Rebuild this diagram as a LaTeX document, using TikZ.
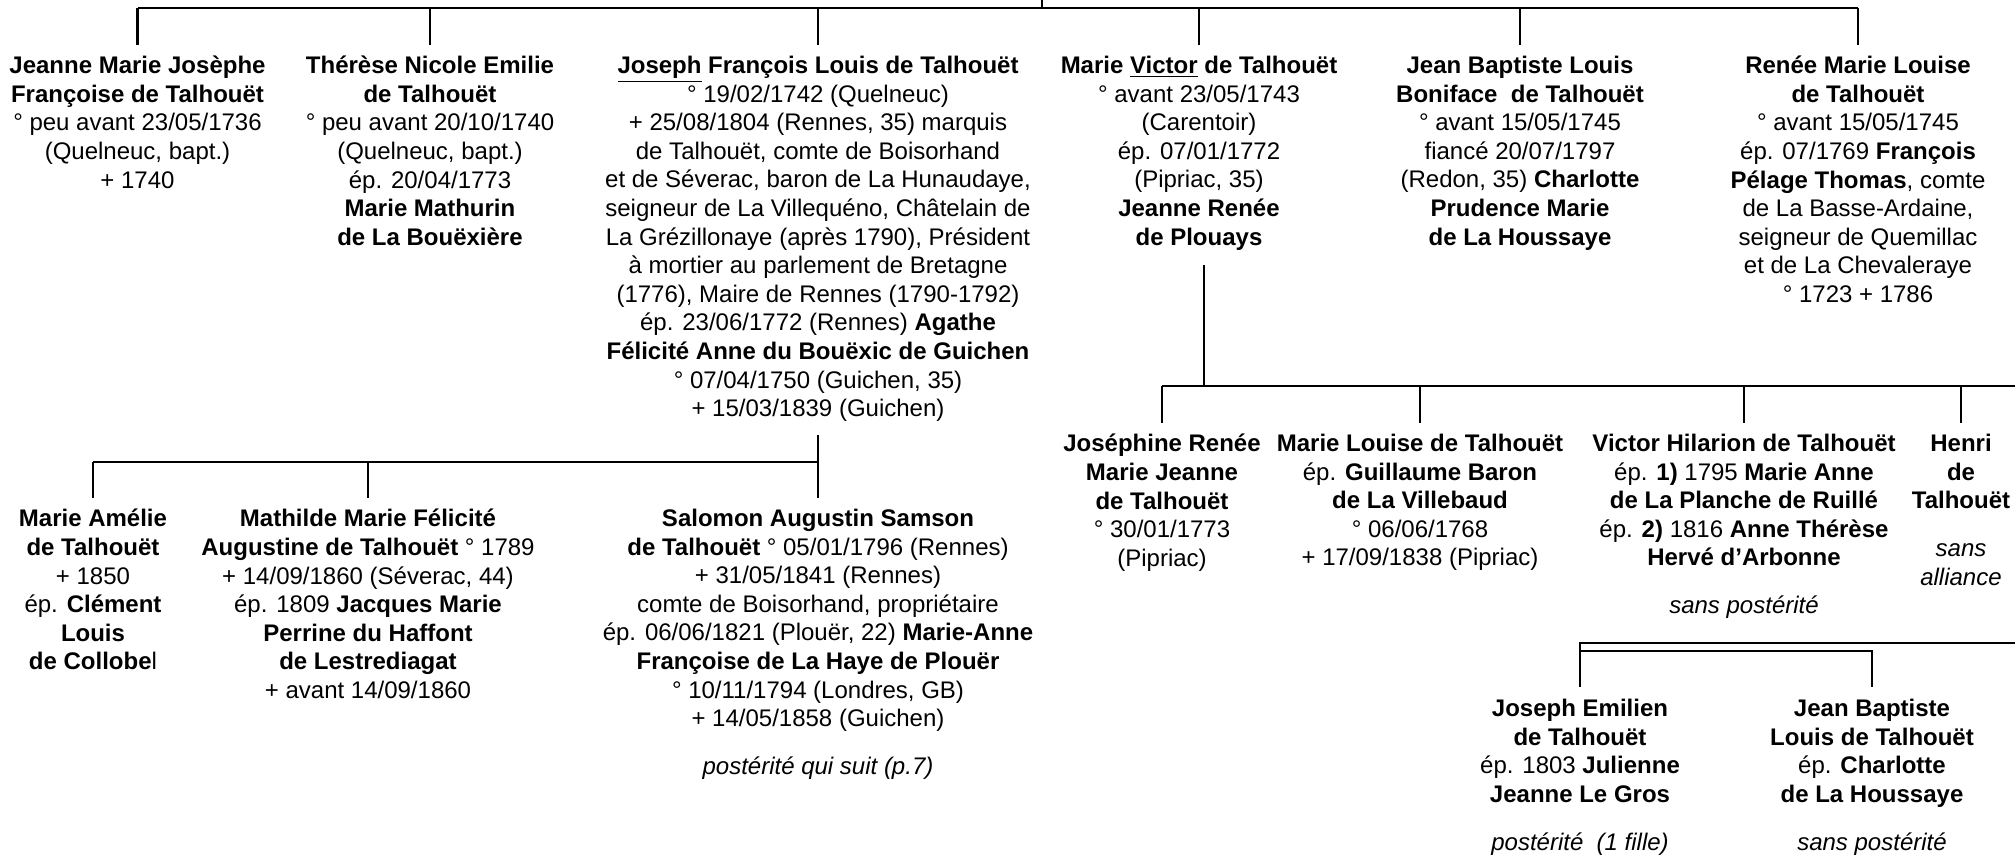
\documentclass[tikz,border=0pt]{standalone}
\usepackage{fontspec}
\setmainfont{Liberation Sans}
\newcommand{\fs}{\fontsize{12}{14.3}\selectfont}
\newcommand{\gap}{\\[9.7pt]}

\begin{document}
\begin{tikzpicture}[x=0.5pt, y=-0.5pt, line width=1.2pt,
		pers/.style={align=center, inner sep=0pt, anchor=north, font=\fs, execute at begin node=\strut}]
				\useasboundingbox (0,0) rectangle (2015,855);
				% generation 1
				\node[pers] (jeanne) at (137.5,55) {\textbf{Jeanne Marie Josèphe}\\ \textbf{Françoise de Talhouët}\\ ° peu avant 23/05/1736\\ (Quelneuc, bapt.)\\ + 1740};
				\node[pers] (therese) at (430,55) {\textbf{Thérèse Nicole Emilie}\\ \textbf{de Talhouët}\\ ° peu avant 20/10/1740\\ (Quelneuc, bapt.)\\ ép. 20/04/1773\\ \textbf{Marie Mathurin}\\ \textbf{de La Bouëxière}};
				\node[pers] (joseph) at (818,55) {\textbf{\underline{Joseph} François Louis de Talhouët}\\ ° 19/02/1742 (Quelneuc)\\ + 25/08/1804 (Rennes, 35) marquis\\ de Talhouët, comte de Boisorhand\\ et de Séverac, baron de La Hunaudaye,\\ seigneur de La Villequéno, Châtelain de\\ La Grézillonaye (après 1790), Président\\ à mortier au parlement de Bretagne\\ (1776), Maire de Rennes (1790-1792)\\ ép. 23/06/1772 (Rennes) \textbf{Agathe}\\ \textbf{Félicité Anne du Bouëxic de Guichen}\\ ° 07/04/1750 (Guichen, 35)\\ + 15/03/1839 (Guichen)};
				\node[pers] (victor) at (1199,55) {\textbf{Marie \underline{Victor} de Talhouët}\\ ° avant 23/05/1743\\ (Carentoir)\\ ép. 07/01/1772\\ (Pipriac, 35)\\ \textbf{Jeanne Renée}\\ \textbf{de Plouays}};
				\node[pers] (jbl) at (1520,55) {\textbf{Jean Baptiste Louis}\\ \textbf{Boniface\ \ de Talhouët}\\ ° avant 15/05/1745\\ fiancé 20/07/1797\\ (Redon, 35) \textbf{Charlotte}\\ \textbf{Prudence Marie}\\ \textbf{de La Houssaye}};
				\node[pers] (renee) at (1858,55) {\textbf{Renée Marie Louise}\\ \textbf{de Talhouët}\\ ° avant 15/05/1745\\ ép. 07/1769 \textbf{François}\\ \textbf{Pélage Thomas}, comte\\ de La Basse-Ardaine,\\ seigneur de Quemillac\\ et de La Chevaleraye\\ ° 1723 + 1786};
				
				% children of Joseph
				\node[pers] (amelie) at (93,508) {\textbf{Marie Amélie}\\ \textbf{de Talhouët}\\ + 1850\\ ép. \textbf{Clément}\\ \textbf{Louis}\\ \textbf{de Collobe}l};
				\node[pers] (mathilde) at (368,508) {\textbf{Mathilde Marie Félicité}\\ \textbf{Augustine de Talhouët} ° 1789\\ + 14/09/1860 (Séverac, 44)\\ ép. 1809 \textbf{Jacques Marie}\\ \textbf{Perrine du Haffont}\\ \textbf{de Lestrediagat}\\ + avant 14/09/1860};
				\node[pers] (salomon) at (818,508) {\textbf{Salomon Augustin Samson}\\ \textbf{de Talhouët} ° 05/01/1796 (Rennes)\\ + 31/05/1841 (Rennes)\\ comte de Boisorhand, propriétaire\\ ép. 06/06/1821 (Plouër, 22) \textbf{Marie-Anne}\\ \textbf{Françoise de La Haye de Plouër}\\ ° 10/11/1794 (Londres, GB)\\ + 14/05/1858 (Guichen)\gap \textit{postérité qui suit (p.7)}};
				
				% children of Victor
				\node[pers] (josephine) at (1162,433) {\textbf{Joséphine Renée}\\ \textbf{Marie Jeanne}\\ \textbf{de Talhouët}\\ ° 30/01/1773\\ (Pipriac)};
				\node[pers] (marielouise) at (1420,433) {\textbf{Marie Louise de Talhouët}\\ ép. \textbf{Guillaume Baron}\\ \textbf{de La Villebaud}\\ ° 06/06/1768\\ + 17/09/1838 (Pipriac)};
				\node[pers] (hilarion) at (1744,433) {\textbf{Victor Hilarion de Talhouët}\\ ép. \textbf{1)} 1795 \textbf{Marie Anne}\\ \textbf{de La Planche de Ruillé}\\ ép. \textbf{2)} 1816 \textbf{Anne Thérèse}\\ \textbf{Hervé d’Arbonne}\gap \textit{sans postérité}};
				\node[pers] (henri) at (1961,433) {\textbf{Henri}\\ \textbf{de}\\ \textbf{Talhouët}\gap \textit{sans}\\ \textit{alliance}};
				
				\node[pers] (emilien) at (1580,698) {\textbf{Joseph Emilien}\\ \textbf{de Talhouët}\\ ép. 1803 \textbf{Julienne}\\ \textbf{Jeanne Le Gros}\gap \textit{postérité\ \ (1 fille)}};
				\node[pers] (jbaptiste) at (1872,698) {\textbf{Jean Baptiste}\\ \textbf{Louis de Talhouët}\\ ép. \textbf{Charlotte}\\ \textbf{de La Houssaye}\gap \textit{sans postérité}};
				
				\coordinate (up) at (1042,0);
				\coordinate (vv) at (1204,386);
				\coordinate (vright) at (2015,386);
				\coordinate (dright) at (2015,643);
				
				\draw (up) -- (up |- 0,8);
				\draw (jeanne |- 0,8) -- (renee |- 0,8);
				\foreach \n in {jeanne,therese,joseph,victor,jbl,renee} {
					\draw (\n |- 0,8) -- (\n |- 0,45);
				}
				
				\draw (joseph |- 0,435) -- (salomon |- 0,498);
				\draw (amelie |- 0,462) -- (joseph |- 0,462);
				\foreach \n in {amelie,mathilde} {
					\draw (\n |- 0,462) -- (\n |- 0,498);
				}
				
				\draw (vv |- 0,265) -- (vv);
				\draw (josephine |- vv) -- (vright);
				\foreach \n in {josephine,marielouise,hilarion,henri} {
					\draw (\n |- vv) -- (\n |- 0,423);
				}
				
				\draw (dright) -- (emilien |- dright) -- (emilien |- 0,687);
				\draw (emilien |- 0,651) -- (jbaptiste |- 0,651) -- (jbaptiste |- 0,687);
			\end{tikzpicture}
\end{document}
